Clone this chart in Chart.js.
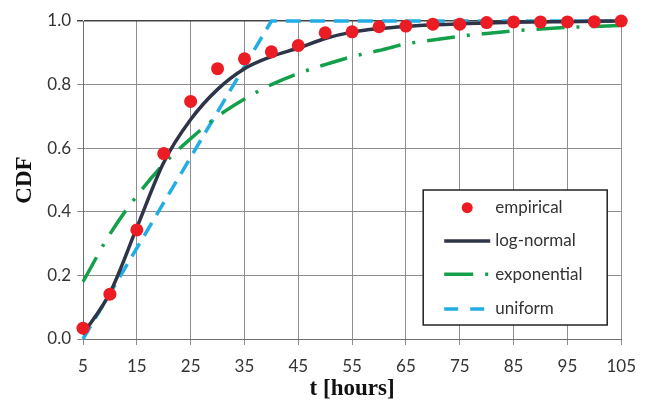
<!DOCTYPE html>
<html>
<head>
<meta charset="utf-8">
<script src="https://cdn.jsdelivr.net/npm/chart.js@4.4.1/dist/chart.umd.min.js"></script>
<style>
html, body { margin: 0; padding: 0; background: #fff; }
</style>
</head>
<body>
<canvas id="myChart" width="647" height="402"></canvas>
<script>
// hours on the x axis (every 5 h)
const HOURS = [5, 10, 15, 20, 25, 30, 35, 40, 45, 50, 55, 60, 65, 70, 75, 80, 85, 90, 95, 100, 105]

// CDF values
const EMPIRICAL   = [0.034, 0.141, 0.343, 0.583, 0.747, 0.850, 0.881, 0.903, 0.923, 0.963, 0.966, 0.982, 0.984, 0.990, 0.990, 0.995, 0.997, 0.997, 0.997, 0.998, 1.0]
const LOG_NORMAL  = [0.015, 0.145, 0.350, 0.555, 0.690, 0.785, 0.850, 0.888, 0.915, 0.945, 0.965, 0.976, 0.983, 0.988, 0.991, 0.994, 0.996, 0.997, 0.998, 0.999, 1.0]
const EXPONENTIAL = [0.180, 0.330, 0.450, 0.550, 0.630, 0.700, 0.755, 0.800, 0.835, 0.863, 0.888, 0.907, 0.928, 0.940, 0.952, 0.961, 0.969, 0.975, 0.980, 0.983, 0.986]
const UNIFORM_X   = [5, 40, 105]
const UNIFORM_Y   = [0, 1, 1]

const X_TICKS = [5, 15, 25, 35, 45, 55, 65, 75, 85, 95, 105]
const Y_TICKS = [0, 0.2, 0.4, 0.6, 0.8, 1.0]

const NAMES = ['empirical', 'log-normal', 'exponential', 'uniform']

const RED = '#ec1c24'
const NAVY = '#2f3549'
const GREEN = '#14a04a'
const BLUE = '#22ade4'
const GRID = '#8e8e8e'
const TEXT = '#333333'

function pts(xs, ys){
	var out = []
	for(var i = 0; i < xs.length; i++) out.push({x: xs[i], y: ys[i]})
	return out
}

//legend box drawn inside the plot, bottom right
const legendBox = {
	id: 'legendBox',
	afterDatasetsDraw(chart){
		const ctx = chart.ctx
		const a = chart.chartArea
		const w = 184, h = 135
		const bx = a.right - 14 - w
		const by = a.bottom - 14 - h
		ctx.save()
		ctx.fillStyle = '#fff'
		ctx.fillRect(bx, by, w, h)
		ctx.strokeStyle = '#222'
		ctx.lineWidth = 1.5
		ctx.strokeRect(bx, by, w, h)

		const x0 = bx + 21, x1 = bx + 67
		const rows = [17.7, 51, 84.3, 119]
		ctx.lineCap = 'butt'
		// empirical
		ctx.fillStyle = RED
		ctx.beginPath()
		ctx.arc(bx + 44, by + rows[0], 5.5, 0, Math.PI * 2)
		ctx.fill()
		// log-normal
		ctx.strokeStyle = NAVY
		ctx.lineWidth = 3.5
		ctx.setLineDash([])
		ctx.beginPath(); ctx.moveTo(x0, by + rows[1]); ctx.lineTo(x1, by + rows[1]); ctx.stroke()
		// exponential
		ctx.strokeStyle = GREEN
		ctx.setLineDash([29, 12, 3, 12])
		ctx.beginPath(); ctx.moveTo(x0, by + rows[2]); ctx.lineTo(x1, by + rows[2]); ctx.stroke()
		// uniform
		ctx.strokeStyle = BLUE
		ctx.setLineDash([14, 12])
		ctx.beginPath(); ctx.moveTo(x0, by + rows[3]); ctx.lineTo(x1 - 5, by + rows[3]); ctx.stroke()
		ctx.setLineDash([])

		ctx.fillStyle = TEXT
		ctx.font = '17px Lato'
		ctx.textBaseline = 'middle'
		ctx.textAlign = 'left'
		for(var i = 0; i < NAMES.length; i++){
			ctx.fillText(NAMES[i], bx + 72, by + rows[i])
		}
		ctx.restore()
	}
}

var ctx = document.getElementById('myChart').getContext('2d')
var myChart = new Chart(ctx, {
	type: 'line',
	data: {
		datasets: [{
			label: NAMES[0],
			data: pts(HOURS, EMPIRICAL),
			showLine: false,
			pointRadius: 6.5,
			pointBackgroundColor: RED,
			pointBorderWidth: 0,
			borderColor: RED,
			clip: false
		}, {
			label: NAMES[1],
			data: pts(HOURS, LOG_NORMAL),
			borderColor: NAVY,
			borderWidth: 3.5,
			pointRadius: 0,
			cubicInterpolationMode: 'monotone',
			clip: false
		}, {
			label: NAMES[2],
			data: pts(HOURS, EXPONENTIAL),
			borderColor: GREEN,
			borderWidth: 3.5,
			borderDash: [28, 12, 3, 12],
			pointRadius: 0,
			cubicInterpolationMode: 'monotone',
			clip: false
		}, {
			label: NAMES[3],
			data: pts(UNIFORM_X, UNIFORM_Y),
			borderColor: BLUE,
			borderWidth: 3.5,
			borderDash: [15, 9],
			pointRadius: 0,
			clip: false
		}]
	},
	options: {
		responsive: false,
		animation: false,
		layout: { padding: { left: 0, right: 24, top: 21, bottom: 0 } },
		plugins: {
			legend: { display: false },
			tooltip: { enabled: false }
		},
		scales: {
			x: {
				type: 'linear',
				min: 5,
				max: 105,
				afterBuildTicks: function(axis){ axis.ticks = X_TICKS.map(v => ({value: v})) },
				afterFit: function(axis){ axis.height = 63 },
				grid: { color: GRID, lineWidth: 1, tickLength: 6, drawTicks: true },
				border: { color: '#6e6e6e', width: 1 },
				ticks: { color: TEXT, font: { family: 'Lato', size: 17 }, padding: 11, maxRotation: 0 },
				title: {
					display: true,
					text: 't [hours]',
					color: '#111',
					font: { family: 'Liberation Serif', size: 23, weight: 'bold', lineHeight: 1 },
					padding: { top: 0, bottom: 1 }
				}
			},
			y: {
				min: 0,
				max: 1,
				afterBuildTicks: function(axis){ axis.ticks = Y_TICKS.map(v => ({value: v})) },
				afterFit: function(axis){ axis.width = 83 },
				grid: {
					color: function(c){ return (c.tick && c.tick.value === 1) ? '#444' : GRID },
					lineWidth: function(c){ return (c.tick && c.tick.value === 1) ? 1.5 : 1 },
					tickLength: 6,
					drawTicks: true
				},
				border: { color: '#6e6e6e', width: 1 },
				ticks: {
					color: TEXT,
					font: { family: 'Lato', size: 17 },
					padding: 6,
					callback: function(v){ return Number(v).toFixed(1) }
				},
				title: {
					display: true,
					text: 'CDF',
					color: '#111',
					font: { family: 'Liberation Serif', size: 23, weight: 'bold', lineHeight: 1 },
					padding: { top: 13.5, bottom: 0 }
				}
			}
		}
	},
	plugins: [legendBox]
})
</script>
</body>
</html>
